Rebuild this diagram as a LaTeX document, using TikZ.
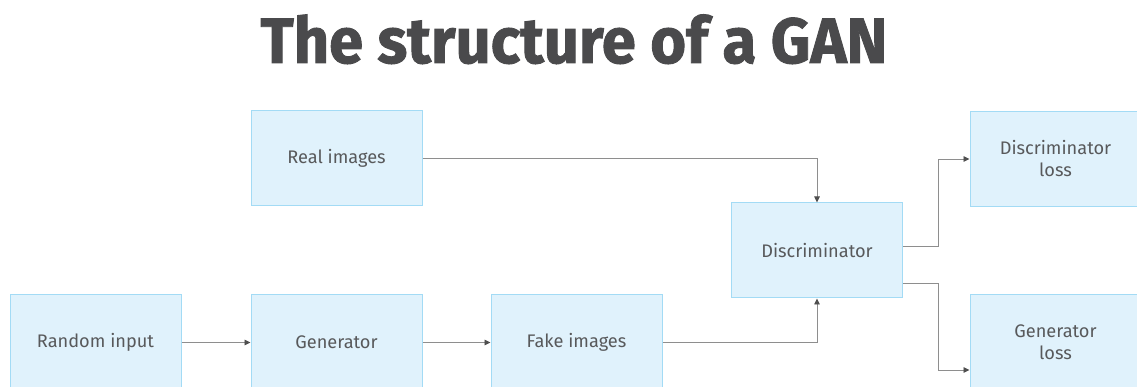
\documentclass[tikz,border=0pt]{standalone}
\usepackage{fontspec}
\setmainfont{Fira Sans}
\newfontfamily\titlefont[FakeStretch=0.96,FakeBold=1.4]{Fira Sans}
\usetikzlibrary{arrows.meta}
\definecolor{boxfill}{HTML}{E0F2FC}
\definecolor{boxline}{HTML}{A3DBF5}
\definecolor{labeltext}{HTML}{58595B}
\definecolor{titletext}{HTML}{4A4A4C}
\definecolor{wire}{HTML}{8E8E8E}
\definecolor{tipcol}{HTML}{4F4F4F}
\tikzset{
  block/.style={draw=boxline, line width=1pt, fill=boxfill, minimum width=171pt,
    minimum height=95pt, inner sep=0pt, align=center, text=labeltext,
    font=\fontsize{18.2}{22}\selectfont},
  flow/.style={draw=wire, line width=0.9pt,
    -{Triangle[length=6pt,width=5.5pt,color=tipcol]}}
}
\begin{document}
\begin{tikzpicture}[x=1pt,y=1pt]
\useasboundingbox (0,0) rectangle (1137,387);
\clip (0,0) rectangle (1137,387);
\fill[white] (0,0) rectangle (1137,387);

\node[anchor=base, text=titletext, font=\titlefont\bfseries\fontsize{64}{70}\selectfont]
  (title) at (574,324) {The structure of a GAN};

\node[block] (rand) at (95.5,44.5) {Random input};
\node[block] (gen)  at (336.5,44.5) {Generator};
\node[block] (fake) at (576.5,44.5) {Fake images};
\node[block] (real) at (336.5,228.5) {Real images};
\node[block] (disc) at (817,136.5) {Discriminator};
\node[block] (dloss) at (1055.5,228) {Discriminator\\loss};
\node[block] (gloss) at (1055.5,44.5) {Generator\\loss};

\draw[flow] (rand) -- (gen);
\draw[flow] (gen) -- (fake);
\draw[flow] (real.east) -| (disc.north);
\draw[flow] (fake.east) -| (disc.south);
\draw[flow] ([yshift=4.5pt]disc.east) -- ++(35,0) |- (dloss.west);
\draw[flow] ([yshift=-32.5pt]disc.east) -- ++(35,0) |- ([yshift=-27.5pt]gloss.west);
\end{tikzpicture}
\end{document}
